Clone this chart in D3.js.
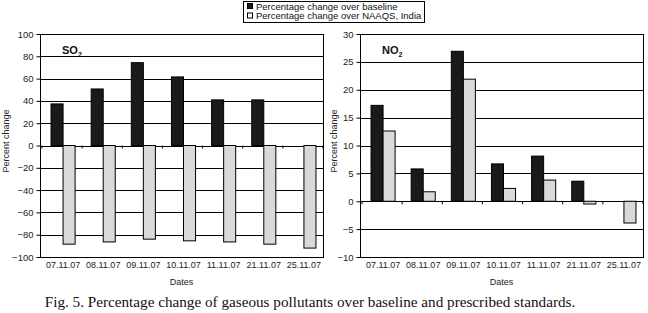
<!DOCTYPE html>
<html>
  <head>
    <meta charset="utf-8">
    <title>Fig. 5</title>
    <script src="https://d3js.org/d3.v7.min.js"></script>
    <style>
      body { margin: 0; background: #fff; }
    </style>
  </head>
  <body>
    <div id="chart"></div>
    <script>
      // data
      const dates = ["07.11.07", "08.11.07", "09.11.07", "10.11.07", "11.11.07", "21.11.07", "25.11.07"];
      const seriesNames = ["Percentage change over baseline", "Percentage change over NAAQS, India"];
      const so2Baseline = [37.3, 50.7, 74.3, 61.5, 40.9, 40.9, 0];
      const so2Naaqs = [-88.5, -86.5, -84, -85.5, -86.5, -88.5, -92];
      const no2Baseline = [17.2, 5.8, 26.9, 6.7, 8.1, 3.6, 0];
      const no2Naaqs = [12.6, 1.7, 21.9, 2.3, 3.8, -0.5, -3.9];
      const so2Ticks = [-100, -80, -60, -40, -20, 0, 20, 40, 60, 80, 100];
      const no2Ticks = [-10, -5, 0, 5, 10, 15, 20, 25, 30];

      const width = 648, height = 313;
      const font = "'Liberation Sans', Arial, sans-serif";
      const svg = d3.select("#chart").append("svg")
                    .attr("width", width)
                    .attr("height", height);

      const colors = ["#1a1a1a", "#d9d9d9"];

      const drawPanel = (opts) => {
        const {x0, x1, y0, y1, domain, ticks, base, naaqs, label, labelX} = opts;
        const g = svg.append("g");

        const yScale = d3.scaleLinear().domain(domain).range([y1, y0]);
        const xScale = d3.scaleBand().domain(dates).range([x0 + 3, x1 + 1]).paddingInner(0.4).paddingOuter(0.2);
        const xSub = d3.scaleBand().domain([0, 1]).range([0, xScale.bandwidth()]);

        // grid lines
        g.selectAll("line.grid")
         .data(ticks)
         .join("line")
         .attr("class", "grid")
         .attr("x1", x0).attr("x2", x1)
         .attr("y1", d => Math.round(yScale(d)) + 0.5)
         .attr("y2", d => Math.round(yScale(d)) + 0.5)
         .attr("stroke", "#000")
         .attr("stroke-width", 1);

        // y axis
        const yAxis = g.append("g")
                       .attr("transform", `translate(${x0 + 0.5},0)`)
                       .call(d3.axisLeft(yScale).tickValues(ticks).tickSize(4).tickPadding(3)
                               .tickFormat(d => d < 0 ? "\u2212" + Math.abs(d) : d));
        yAxis.select(".domain").remove();
        yAxis.selectAll(".tick line").attr("stroke", "#000");
        yAxis.selectAll(".tick text").attr("font-family", font).attr("font-size", 9.5).attr("fill", "#222");

        // bars
        const rows = dates.map((d, i) => ({date: d, vals: [base[i], naaqs[i]]}));
        const groups = g.selectAll("g.grp")
                        .data(rows)
                        .join("g")
                        .attr("class", "grp")
                        .attr("transform", d => `translate(${xScale(d.date)},0)`);
        groups.selectAll("rect")
              .data(d => d.vals.map((v, k) => ({v, k})))
              .join("rect")
              .attr("x", d => xSub(d.k))
              .attr("width", xSub.bandwidth())
              .attr("y", d => yScale(Math.max(0, d.v)))
              .attr("height", d => Math.abs(yScale(d.v) - yScale(0)))
              .attr("fill", d => colors[d.k])
              .attr("stroke", "#000")
              .attr("stroke-width", d => d.v === 0 ? 0 : 1);

        // small ticks on zero line between categories
        const step = xScale.step();
        g.selectAll("line.ztick")
         .data(d3.range(dates.length + 1))
         .join("line")
         .attr("class", "ztick")
         .attr("x1", i => xScale(dates[0]) - step * 0.2 - 1 + i * step)
         .attr("x2", i => xScale(dates[0]) - step * 0.2 - 1 + i * step)
         .attr("y1", yScale(0)).attr("y2", yScale(0) + 3)
         .attr("stroke", "#000");

        // frame
        g.append("rect")
         .attr("x", x0 + 0.5).attr("y", y0 + 0.5)
         .attr("width", x1 - x0).attr("height", y1 - y0)
         .attr("fill", "none").attr("stroke", "#000");

        // x labels
        g.selectAll("text.xl")
         .data(dates)
         .join("text")
         .attr("class", "xl")
         .attr("x", d => xScale(d) + xScale.bandwidth() / 2)
         .attr("y", y1 + 11)
         .attr("text-anchor", "middle")
         .attr("font-family", font).attr("font-size", 9)
         .attr("fill", "#222")
         .text(d => d);

        g.append("text")
         .attr("x", (x0 + x1) / 2)
         .attr("y", y1 + 28)
         .attr("text-anchor", "middle")
         .attr("font-family", font).attr("font-size", 9)
         .attr("fill", "#222")
         .text("Dates");

        g.append("text")
         .attr("transform", `translate(${labelX},141) rotate(-90)`)
         .attr("text-anchor", "middle")
         .attr("font-family", font).attr("font-size", 9)
         .attr("fill", "#222")
         .text("Percent change");

        // pollutant label
        const t = g.append("text")
                   .attr("x", x0 + 22).attr("y", y0 + 20)
                   .attr("font-family", font).attr("font-size", 11)
                   .attr("font-weight", "bold")
                   .attr("fill", "#111");
        t.append("tspan").text(label);
        t.append("tspan").attr("font-size", 7).attr("dy", 3).text("2");
      };

      drawPanel({x0: 40, x1: 323, y0: 34, y1: 257, domain: [-100, 100], ticks: so2Ticks,
                 base: so2Baseline, naaqs: so2Naaqs, label: "SO", labelX: 9});
      drawPanel({x0: 360, x1: 643, y0: 34, y1: 257, domain: [-10, 30], ticks: no2Ticks,
                 base: no2Baseline, naaqs: no2Naaqs, label: "NO", labelX: 337});

      // legend
      const lg = svg.append("g");
      lg.append("rect")
        .attr("x", 243.5).attr("y", 1.5).attr("width", 181).attr("height", 21)
        .attr("fill", "#fff").attr("stroke", "#000");
      seriesNames.forEach((name, i) => {
        lg.append("rect")
          .attr("x", 247.5).attr("y", 3.5 + i * 9.5).attr("width", 5).attr("height", 5)
          .attr("fill", i === 0 ? colors[0] : "#fff").attr("stroke", "#000");
        lg.append("text")
          .attr("x", 256).attr("y", 9.5 + i * 9.5)
          .attr("font-family", font).attr("font-size", 9.5)
          .attr("fill", "#111")
          .text(name);
      });

      // caption
      svg.append("text")
         .attr("x", 310).attr("y", 307)
         .attr("text-anchor", "middle")
         .attr("font-family", "'Liberation Serif', 'Times New Roman', serif")
         .attr("font-size", 15.2)
         .attr("fill", "#111")
         .text("Fig. 5. Percentage change of gaseous pollutants over baseline and prescribed standards.");
    </script>
  </body>
</html>
